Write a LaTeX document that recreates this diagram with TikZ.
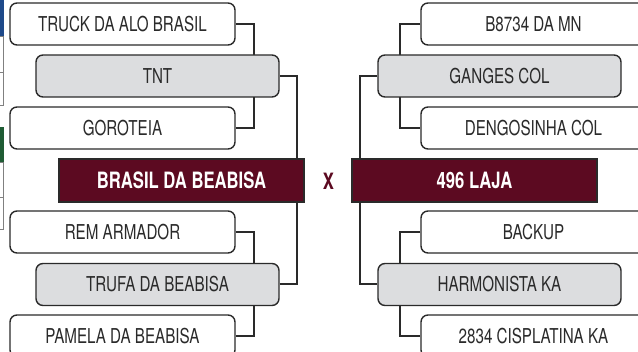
\documentclass[tikz,border=0pt]{standalone}
\usepackage{fontspec}
\setmainfont{TeX Gyre Heros}[FakeStretch=0.74]
\usepackage{tikz}
\usetikzlibrary{backgrounds}
\definecolor{wine}{HTML}{5C0A21}
\definecolor{boxgray}{HTML}{DCDDDF}
\definecolor{ink}{HTML}{2A2A2A}
\definecolor{edgeblue}{HTML}{1F4A8A}
\definecolor{edgegreen}{HTML}{1F5C34}

\begin{document}
\begin{tikzpicture}[x=1pt, y=-1pt,
  font=\fontsize{20.5}{24}\selectfont,
  tm/.style={draw=ink, line width=1.4pt, rounded corners=7pt, text=ink, inner sep=0pt, minimum height=42pt},
  seed/.style={tm, fill=white, minimum width=225pt},
  win/.style={tm, fill=boxgray, minimum width=243pt},
  fin/.style={draw=ink, line width=1.4pt, fill=wine, text=white, font=\fontsize{22.5}{26}\selectfont\bfseries,
              inner sep=0pt, minimum width=245pt, minimum height=43pt},
  br/.style={draw=ink, line width=2pt},
]
\useasboundingbox (0,0) rectangle (638,352);
\clip (0,0) rectangle (638,352);
% ---------------- edge of the neighbouring table (cut off) ----
\fill[edgeblue] (0,0) rectangle (4,36);
\draw[gray, line width=0.8pt] (0,36) -- (3,36) -- (3,105) -- (0,105) (0,72) -- (3,72);
\fill[edgegreen] (0,127) rectangle (4,162);
\draw[gray, line width=0.8pt] (0,162) -- (3,162) -- (3,229) -- (0,229) (0,197) -- (3,197);
% ---------------- left half ----
\begin{scope}
  \node[seed] (truck)  at (122.5,24)  {TRUCK DA ALO BRASIL};
  \node[win]  (tnt)    at (157.5,76)  {TNT};
  \node[seed] (goro)   at (122.5,128) {GOROTEIA};
  \node[fin]  (brasil) at (181.5,180.5) {BRASIL DA BEABISA};
  \node[seed] (rem)    at (122.5,232) {REM ARMADOR};
  \node[win]  (trufa)  at (157.5,284.5) {TRUFA DA BEABISA};
  \node[seed] (pamela) at (122.5,336) {PAMELA DA BEABISA};
  \begin{scope}[on background layer]
    \draw[br] (truck.east) -- ++(18,0) |- (goro.east);
    \draw[br] (rem.east) -- ++(18,0) |- (pamela.east);
    \draw[br] (tnt.east) -| ([xshift=-8pt]brasil.north east);
    \draw[br] (trufa.east) -| ([xshift=-8pt]brasil.south east);
  \end{scope}
\end{scope}
\node[text=wine, font=\fontsize{22.5}{26}\selectfont\bfseries] (vs) at (328.5,181) {X};
% ---------------- right half ----
\begin{scope}
  \node[seed] (b8734)  at (533.5,24)  {B8734 DA MN};
  \node[win]  (ganges) at (499.5,76)  {GANGES COL};
  \node[seed] (dengo)  at (533.5,128) {DENGOSINHA COL};
  \node[fin]  (laja)   at (474.5,180.5) {496 LAJA};
  \node[seed] (backup) at (533.5,232) {BACKUP};
  \node[win]  (harmo)  at (499.5,284.5) {HARMONISTA KA};
  \node[seed] (cispl)  at (533.5,336) {2834 CISPLATINA KA};
  \begin{scope}[on background layer]
    \draw[br] (b8734.west) -- ++(-20,0) |- (dengo.west);
    \draw[br] (backup.west) -- ++(-20,0) |- (cispl.west);
    \draw[br] (ganges.west) -| ([xshift=9pt]laja.north west);
    \draw[br] (harmo.west) -| ([xshift=9pt]laja.south west);
  \end{scope}
\end{scope}
\end{tikzpicture}
\end{document}
